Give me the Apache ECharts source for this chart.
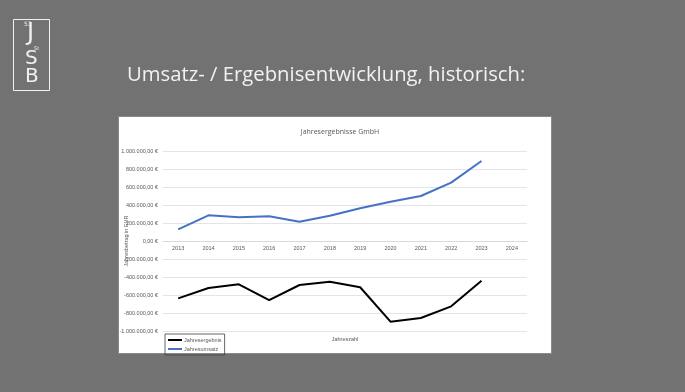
<!DOCTYPE html>
<html><head><meta charset="utf-8">
<script src="https://cdn.jsdelivr.net/npm/echarts@6/dist/echarts.min.js"></script>
<style>html,body{margin:0;padding:0;background:#727272;}#c{width:685px;height:392px;}</style>
</head><body><div id="c"></div>
<script>
const years = ['2013','2014','2015','2016','2017','2018','2019','2020','2021','2022','2023','2024'];
const ergebnis = [-637000,-522000,-481000,-656000,-489000,-452000,-514000,-896000,-856000,-726000,-441000,null];
const umsatz = [130000,285000,263000,274000,215000,280000,363000,437000,500000,648000,889000,null];
const yTicks = [-1000000,1000000,200000];

function fmt(v){
  const neg = v<0; let a = Math.abs(v);
  const s = String(a).replace(/\B(?=(\d{3})+(?!\d))/g,'.');
  return (neg?'-':'')+s+',00 €';
}
const txt = {fontSize:5.5,color:'#595959'};

const chart = echarts.init(document.getElementById('c'));
chart.setOption({
  backgroundColor:'#727272',
  animation:false,
  graphic:[
    {type:'rect',shape:{x:118.5,y:116.5,width:433,height:237},style:{fill:'#ffffff',stroke:'#8a8a8a',lineWidth:1},z:-10},
    {type:'rect',shape:{x:13.5,y:19.5,width:36,height:71},style:{fill:null,stroke:'#f0f0f0',lineWidth:1}},
    {type:'text',left:24,top:21,style:{text:'53',fill:'#f0f0f0',font:'6px "DejaVu Sans"'}},
    {type:'text',left:27,top:22,style:{text:'J',fill:'#f0f0f0',font:'24px "DejaVu Sans"'}},
    {type:'text',left:34,top:46,style:{text:'St',fill:'#f0f0f0',font:'5px "DejaVu Sans"'}},
    {type:'text',left:25,top:49,style:{text:'S',fill:'#f0f0f0',font:'20px "DejaVu Sans"'}},
    {type:'text',left:25,top:67,style:{text:'B',fill:'#f0f0f0',font:'20px "DejaVu Sans"'}},
    {type:'text',left:127,top:65,style:{text:'Umsatz- / Ergebnisentwicklung, historisch:',fill:'#f2f2f2',font:'20.3px "Open Sans"'}},
    {type:'text',x:126,y:241,rotation:Math.PI/2,style:{text:'Jahresbetrag in EUR',fill:'#595959',font:'5.5px sans-serif',align:'center',verticalAlign:'middle'},z:5}
  ],
  title:{text:'Jahresergebnisse GmbH',left:335,top:123,textAlign:'center',textStyle:{fontSize:7,fontWeight:'normal',color:'#595959',fontFamily:'Open Sans'}},
  legend:{orient:'vertical',left:165,top:334,padding:[3,3,3,3],itemGap:3,itemWidth:14,itemHeight:2,
    borderColor:'#404040',borderWidth:0.8,
    textStyle:{fontSize:5.5,color:'#595959',padding:[0,0,0,-3]},
    data:[{name:'Jahresergebnis',icon:'rect'},{name:'Jahresumsatz',icon:'rect'}]},
  grid:[
    {left:163,right:158,top:151,bottom:61,containLabel:false,outerBoundsMode:'none'},
    {left:163,right:158,top:151,bottom:151,containLabel:false,outerBoundsMode:'none'}
  ],
  xAxis:[
    {type:'category',gridIndex:0,data:years,boundaryGap:true,
      axisLine:{show:false},axisTick:{show:false},axisLabel:{show:false},
      name:'Jahreszahl',nameLocation:'middle',nameGap:5,nameTextStyle:txt},
    {type:'category',gridIndex:1,data:years,boundaryGap:true,position:'bottom',
      axisLine:{show:true,onZero:false,lineStyle:{color:'#d9d9d9'}},axisTick:{show:false},
      axisLabel:{fontSize:5.5,color:'#595959',margin:4}}
  ],
  yAxis:[
    {type:'value',gridIndex:0,min:yTicks[0],max:yTicks[1],interval:yTicks[2],
      axisLine:{show:false},axisTick:{show:false},
      splitLine:{lineStyle:{color:'#e4e4e4'}},
      axisLabel:{fontSize:5.5,color:'#595959',margin:5,formatter:fmt}},
    {type:'value',gridIndex:1,min:0,max:1,show:false}
  ],
  series:[
    {name:'Jahresergebnis',type:'line',data:ergebnis,symbol:'none',lineStyle:{color:'#000000',width:2},itemStyle:{color:'#000000'}},
    {name:'Jahresumsatz',type:'line',data:umsatz,symbol:'none',lineStyle:{color:'#4472c4',width:2},itemStyle:{color:'#4472c4'}}
  ]
});
</script></body></html>
